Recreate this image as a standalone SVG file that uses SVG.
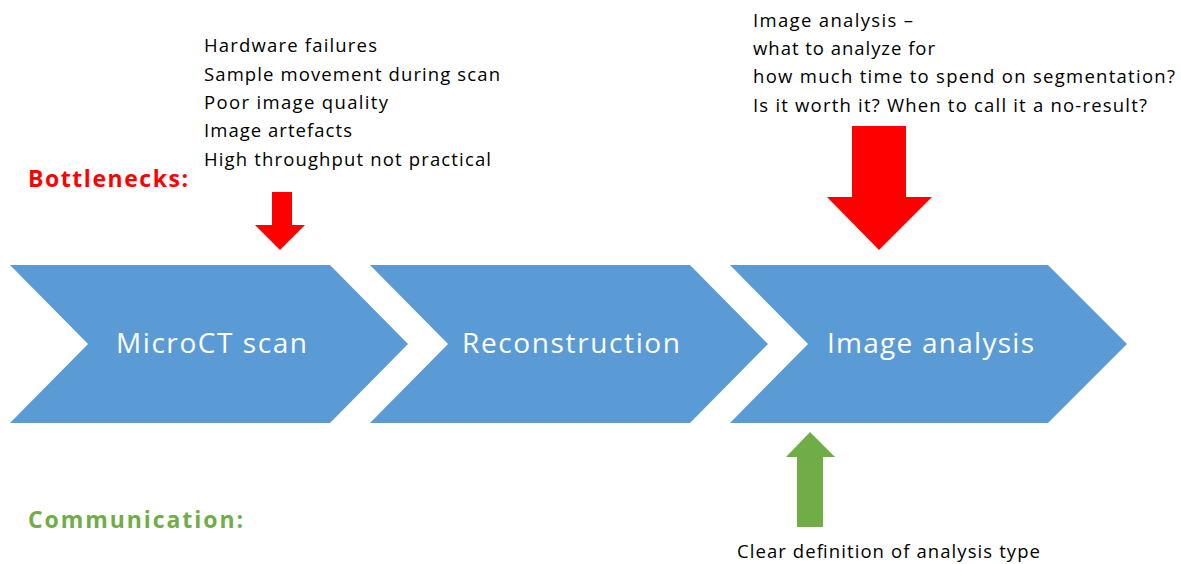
<svg xmlns="http://www.w3.org/2000/svg" width="1181" height="564" viewBox="0 0 1181 564">
<style>
.chev{fill:#5B9BD5}
.lbl{font-family:"Open Sans","Liberation Sans",sans-serif;font-size:28px;fill:#FFFFFF}
.note{font-family:"Open Sans","Liberation Sans",sans-serif;font-size:18.5px;fill:#000000}
.hdr{font-family:"Open Sans","Liberation Sans",sans-serif;font-size:23px;font-weight:bold}
</style>
<rect width="1181" height="564" fill="#FFFFFF"/>
<g id="node-microct">
<polygon class="chev" points="10,265 330,265 408,344 330,423 10,423 88,344"/>
<text class="lbl" x="116" y="353" textLength="191">MicroCT scan</text>
</g>
<g id="node-reconstruction">
<polygon class="chev" points="370,265 690,265 768,344 690,423 370,423 448,344"/>
<text class="lbl" x="462" y="353" textLength="218">Reconstruction</text>
</g>
<g id="node-imageanalysis">
<polygon class="chev" points="730,265 1048,265 1127,344 1048,423 730,423 808,344"/>
<text class="lbl" x="827" y="353" textLength="207">Image analysis</text>
</g>
<g id="label-bottlenecks">
<text class="hdr" x="28" y="187" fill="#FF0000" textLength="160">Bottlenecks:</text>
</g>
<g id="label-communication">
<text class="hdr" x="28" y="528" fill="#70AD47" textLength="215">Communication:</text>
</g>
<g id="note-scan">
<text class="note" x="204" y="52" textLength="173">Hardware failures</text>
<text class="note" x="204" y="81" textLength="296">Sample movement during scan</text>
<text class="note" x="204" y="109" textLength="184">Poor image quality</text>
<text class="note" x="204" y="137" textLength="148">Image artefacts</text>
<text class="note" x="204" y="166" textLength="287">High throughput not practical</text>
</g>
<g id="note-analysis">
<text class="note" x="753" y="27" textLength="160">Image analysis –</text>
<text class="note" x="753" y="55" textLength="182">what to analyze for</text>
<text class="note" x="753" y="83" textLength="422">how much time to spend on segmentation?</text>
<text class="note" x="753" y="112" textLength="394">Is it worth it? When to call it a no-result?</text>
</g>
<g id="note-communication">
<text class="note" x="737" y="558" textLength="303">Clear definition of analysis type</text>
</g>
<g id="connectors">
<polygon fill="#FF0000" points="272,192 292,192 292,225 305,225 280,250 255,225 272,225"/>
<polygon fill="#FF0000" points="852,126 906,126 906,197 932,197 879,250 827,197 852,197"/>
<polygon fill="#70AD47" points="797,527 823,527 823,457 835,457 810,432 786,457 797,457"/>
</g>
</svg>
